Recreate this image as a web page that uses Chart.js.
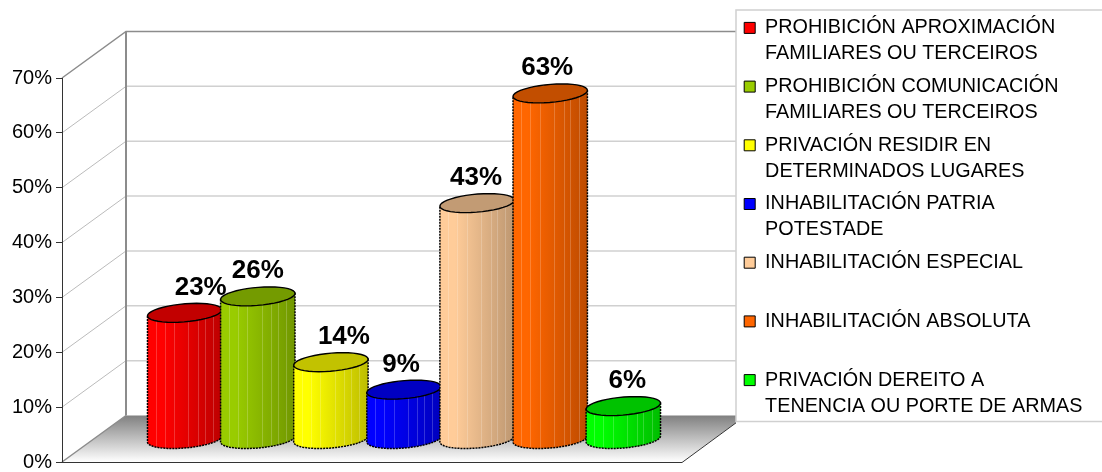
<!DOCTYPE html>
<html>
<head>
<meta charset="utf-8">
<style>
  html, body { margin: 0; padding: 0; background: #fff; }
  canvas { display: block; }
</style>
<script src="https://cdn.jsdelivr.net/npm/chart.js@4/dist/chart.umd.js"></script>
</head>
<body>
<canvas id="chart" width="1102" height="472"></canvas>
<script>
const categories = [''];
const seriesNames = [
  ['PROHIBICIÓN APROXIMACIÓN', 'FAMILIARES OU TERCEIROS'],
  ['PROHIBICIÓN COMUNICACIÓN', 'FAMILIARES OU TERCEIROS'],
  ['PRIVACIÓN RESIDIR EN', 'DETERMINADOS LUGARES'],
  ['INHABILITACIÓN PATRIA', 'POTESTADE'],
  ['INHABILITACIÓN ESPECIAL', ' '],
  ['INHABILITACIÓN ABSOLUTA', ' '],
  ['PRIVACIÓN DEREITO A', 'TENENCIA OU PORTE DE ARMAS']
];
const seriesValues = [23, 26, 14, 9, 43, 63, 6];
const seriesColors = ['#ff0000', '#99cc00', '#ffff00', '#0000ff', '#ffcc99', '#ff6600', '#00ff00'];
const tickStep = 10;
const tickMax = 70;

// the labels were moved by hand in the original, so they sit off centre
const labelNudge = [16, 0, 13, -3, -1, -3, 4];

const FONT = '"Liberation Sans", Arial, sans-serif';
const depthX = 64, depthY = 46.5;      // back wall offset from the front plane
const barDX = 4, barDY = -23;          // bars stand half way into the floor
const floorRight = 682;                // front right corner of the floor
const legendFrame = { left: 736, top: 10, bottom: 421.5 };

function shade(hex, f) {
  const n = parseInt(hex.slice(1), 16);
  const r = Math.round((n >> 16 & 255) * f);
  const g = Math.round((n >> 8 & 255) * f);
  const b = Math.round((n & 255) * f);
  return `rgb(${r},${g},${b})`;
}

// cylinder instead of the flat rectangle, position still comes from the scales
Chart.BarElement.prototype.draw = function (ctx) {
  const color = this.options.backgroundColor;
  const cx = this.x + barDX;
  const top = this.y + barDY;
  const bottom = this.base + barDY + 0.5;
  const r = this.width * 1.02 / 2;
  const a = r * 0.945, b = r * 0.32, c = r * 0.255;
  const rim = (cy, t) => [cx + a * Math.cos(t) + b * Math.sin(t), cy - c * Math.sin(t)];
  const t0 = Math.atan2(b, a);
  const trace = (path, cy, from, to) => {
    for (let i = 0; i <= 40; i++) {
      const p = rim(cy, from + (to - from) * i / 40);
      path.lineTo(p[0], p[1]);
    }
  };

  ctx.save();
  const body = new Path2D();
  const start = rim(top, t0);
  body.moveTo(start[0], start[1]);
  trace(body, bottom, t0, t0 - Math.PI);
  const end = rim(top, t0 - Math.PI);
  body.lineTo(end[0], end[1]);
  body.closePath();

  const grad = ctx.createLinearGradient(cx - r, 0, cx + r, 0);
  grad.addColorStop(0, color);
  grad.addColorStop(0.2, color);
  grad.addColorStop(1, shade(color, 0.74));
  ctx.fillStyle = grad;
  ctx.fill(body);

  ctx.save();
  ctx.clip(body);
  ctx.strokeStyle = 'rgba(255,255,255,0.2)';
  ctx.lineWidth = 1;
  [0.11, 0.23, 0.36, 0.55, 0.68, 0.77, 0.88].forEach(f => {
    const x = Math.round(cx - r + 2 * r * f) + 0.5;
    ctx.beginPath();
    ctx.moveTo(x, top);
    ctx.lineTo(x, bottom + c + 2);
    ctx.stroke();
  });
  ctx.restore();

  ctx.strokeStyle = '#000';
  ctx.lineWidth = 1.5;
  ctx.setLineDash([2, 1]);
  ctx.stroke(body);
  ctx.setLineDash([]);

  const lid = new Path2D();
  trace(lid, top, 0, Math.PI * 2);
  lid.closePath();
  ctx.fillStyle = shade(color, 0.76);
  ctx.fill(lid);
  ctx.lineWidth = 1.4;
  ctx.stroke(lid);
  ctx.restore();
};

const wallsPlugin = {
  id: 'walls',
  afterLayout(chart) {
    // legend box is capped to a quarter of the width by the layout, stretch it to the edge
    chart.legend.left = 737.5;
    chart.legend.right = chart.width;
    chart.legend.width = chart.width - 737.5;
  },
  beforeDraw(chart) {
    const { ctx, chartArea, scales } = chart;
    const x0 = chartArea.left, yb = chartArea.bottom, yt = chartArea.top;
    const bx = x0 + depthX;

    ctx.save();
    ctx.beginPath();
    ctx.rect(0, 0, legendFrame.left, chart.height);
    ctx.clip();

    // floor
    const floor = ctx.createLinearGradient(0, yb - depthY, 0, yb);
    floor.addColorStop(0, '#808080');
    floor.addColorStop(1, '#ffffff');
    ctx.beginPath();
    ctx.moveTo(x0, yb);
    ctx.lineTo(floorRight, yb);
    ctx.lineTo(floorRight + depthX, yb - depthY);
    ctx.lineTo(bx, yb - depthY);
    ctx.closePath();
    ctx.fillStyle = floor;
    ctx.fill();

    // gridlines on side wall and back wall
    scales.y.ticks.forEach(t => {
      const y = scales.y.getPixelForValue(t.value);
      if (t.value > 0 && t.value < tickMax) {
        ctx.strokeStyle = '#bbbbbb';
        ctx.lineWidth = 1;
        ctx.beginPath();
        ctx.moveTo(x0, y);
        ctx.lineTo(bx, y - depthY);
        ctx.stroke();
        ctx.strokeStyle = '#d0d0d0';
        ctx.lineWidth = 1.5;
        ctx.beginPath();
        ctx.moveTo(bx, y - depthY);
        ctx.lineTo(legendFrame.left, y - depthY);
        ctx.stroke();
      }
    });

    ctx.strokeStyle = '#8c8c8c';
    ctx.lineWidth = 1.5;
    ctx.beginPath();
    ctx.moveTo(x0, yt);
    ctx.lineTo(bx, yt - depthY);
    ctx.lineTo(legendFrame.left, yt - depthY);
    ctx.moveTo(x0, yb);
    ctx.lineTo(bx, yb - depthY);
    ctx.stroke();
    ctx.lineWidth = 2;
    ctx.beginPath();
    ctx.moveTo(bx, yt - depthY);
    ctx.lineTo(bx, yb - depthY);
    ctx.stroke();

    ctx.strokeStyle = '#333';
    ctx.lineWidth = 1;
    ctx.beginPath();
    ctx.moveTo(x0, yb + 0.5);
    ctx.lineTo(floorRight, yb + 0.5);
    ctx.lineTo(floorRight + depthX, yb - depthY);
    ctx.stroke();
    ctx.restore();

    // legend frame runs off the right edge
    ctx.save();
    ctx.strokeStyle = '#d0d0d0';
    ctx.lineWidth = 1.5;
    ctx.strokeRect(legendFrame.left, legendFrame.top, chart.width, legendFrame.bottom - legendFrame.top);
    ctx.restore();
  }
};

const cylinderOrderPlugin = {
  id: 'cylinderOrder',
  // left to right so each bar overlaps the one before it
  beforeDatasetsDraw(chart) {
    const ctx = chart.ctx;
    chart.data.datasets.forEach((d, i) => {
      chart.getDatasetMeta(i).data.forEach(el => el.draw(ctx));
    });
    ctx.save();
    ctx.fillStyle = '#000';
    ctx.font = 'bold 26px ' + FONT;
    ctx.textAlign = 'center';
    ctx.textBaseline = 'alphabetic';
    chart.data.datasets.forEach((d, i) => {
      chart.getDatasetMeta(i).data.forEach((el, j) => {
        ctx.fillText(d.data[j] + '%', el.x + barDX + labelNudge[i], el.y + barDY - 18);
      });
    });
    ctx.restore();
    return false;
  }
};

new Chart(document.getElementById('chart'), {
  type: 'bar',
  data: {
    labels: categories,
    datasets: seriesNames.map((name, i) => ({
      label: name.join(' ').trim(),
      data: [seriesValues[i]],
      backgroundColor: seriesColors[i],
      categoryPercentage: 0.757,
      barPercentage: 1
    }))
  },
  options: {
    responsive: false,
    animation: false,
    layout: { padding: { top: 11.3, bottom: 10, right: 118, left: 0 } },
    plugins: {
      tooltip: { enabled: false },
      legend: {
        position: 'right',
        align: 'start',
        labels: {
          boxWidth: 11,
          boxHeight: 11,
          padding: 6.7,
          color: '#000',
          font: { family: FONT, size: 19.8, lineHeight: 26 / 19.8 },
          generateLabels: chart => chart.data.datasets.map((d, i) => ({
            text: seriesNames[i],
            fillStyle: seriesColors[i],
            strokeStyle: '#000',
            lineWidth: 1,
            datasetIndex: i
          }))
        }
      }
    },
    scales: {
      x: { display: false },
      // spacer so the front plane starts below the back wall
      spacer: {
        type: 'category',
        axis: 'x',
        position: 'top',
        labels: categories,
        grid: { display: false },
        border: { display: false },
        ticks: { display: false },
        afterFit(s) { s.height = 66.7; }
      },
      y: {
        min: 0,
        max: tickMax,
        ticks: {
          stepSize: tickStep,
          padding: 4,
          color: '#000',
          font: { family: FONT, size: 20 },
          callback: v => v + '%'
        },
        grid: { drawOnChartArea: false, tickLength: 6, color: '#333' },
        border: { color: '#333' },
        afterFit(s) { s.width = 62; s.paddingTop = 0; s.paddingBottom = 0; }
      }
    }
  },
  plugins: [wallsPlugin, cylinderOrderPlugin]
});
</script>
</body>
</html>
